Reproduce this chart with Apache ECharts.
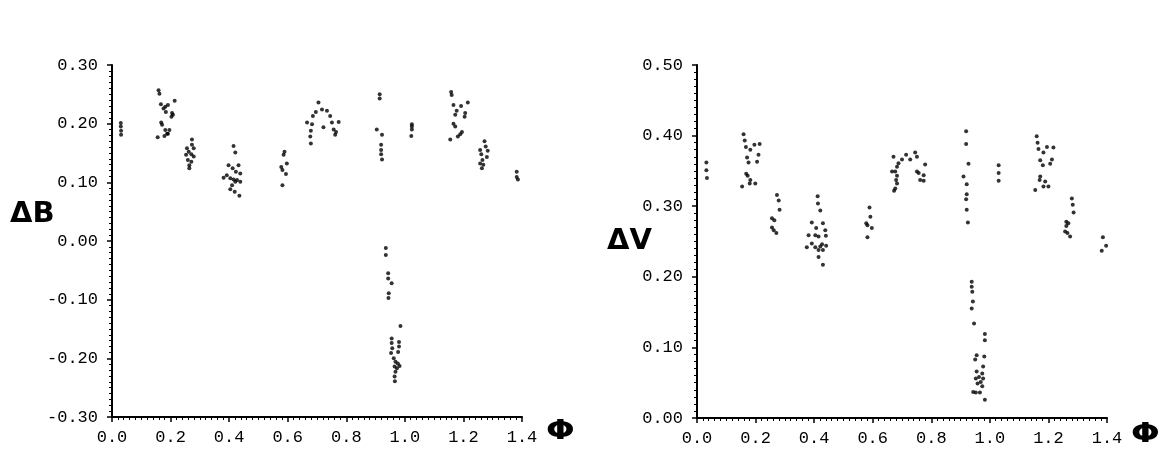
<!DOCTYPE html>
<html>
<head>
<meta charset="utf-8">
<script src="https://cdn.jsdelivr.net/npm/echarts@6/dist/echarts.min.js"></script>
<style>html,body{margin:0;padding:0;background:#fff}#c{width:1165px;height:450px}</style>
</head>
<body>
<div id="c"></div>
<script>
// ΔB panel (phase, ΔB)
const bPhase = [0.030,0.030,0.031,0.031,
0.159,0.162,0.167,0.182,0.176,0.184,0.191,0.214,0.205,0.208,0.203,0.168,0.171,0.182,0.196,0.191,0.156,0.179,0.188,
0.273,0.273,0.256,0.279,0.262,0.271,0.253,0.279,0.259,0.271,0.264,0.264,
0.415,0.421,0.398,0.432,0.412,0.423,0.438,0.392,0.381,0.404,0.415,0.427,0.421,0.438,0.410,0.404,0.419,0.435,
0.589,0.586,0.578,0.597,0.582,0.594,0.582,
0.705,0.717,0.696,0.734,0.686,0.745,0.666,0.683,0.751,0.774,0.722,0.679,0.757,0.765,0.677,0.762,0.679,
0.914,0.914,0.904,0.922,0.919,0.919,0.919,0.922,
0.935,0.935,0.943,0.943,0.955,0.945,0.944,0.985,0.955,0.955,0.957,0.953,0.980,0.980,0.977,0.962,0.968,0.976,0.965,0.973,0.982,0.968,0.965,0.966,
1.024,1.024,1.024,1.022,
1.158,1.160,1.215,1.166,1.192,1.177,1.206,1.172,1.204,1.166,1.172,1.195,1.189,1.181,1.155,
1.272,1.276,1.257,1.283,1.261,1.280,1.265,1.257,1.268,1.263,
1.382,1.382,1.386];
const bDelta = [0.201,0.195,0.188,0.181,
0.257,0.251,0.233,0.229,0.226,0.220,0.232,0.239,0.218,0.215,0.212,0.202,0.198,0.189,0.189,0.183,0.177,0.179,0.183,
0.173,0.164,0.158,0.158,0.152,0.148,0.147,0.144,0.138,0.135,0.129,0.124,
0.162,0.151,0.129,0.129,0.124,0.118,0.115,0.112,0.108,0.107,0.105,0.104,0.101,0.101,0.095,0.088,0.084,0.077,
0.152,0.147,0.126,0.132,0.121,0.114,0.095,
0.236,0.224,0.220,0.222,0.213,0.213,0.202,0.199,0.202,0.203,0.194,0.188,0.190,0.186,0.178,0.181,0.166,
0.250,0.243,0.190,0.181,0.164,0.155,0.148,0.139,
-0.012,-0.024,-0.055,-0.064,-0.072,-0.089,-0.097,-0.145,-0.166,-0.174,-0.183,-0.191,-0.172,-0.180,-0.189,-0.200,-0.206,-0.209,-0.214,-0.217,-0.213,-0.223,-0.231,-0.239,
0.199,0.195,0.190,0.179,
0.254,0.249,0.236,0.232,0.230,0.222,0.218,0.215,0.212,0.200,0.195,0.186,0.182,0.178,0.173,
0.170,0.161,0.155,0.154,0.148,0.143,0.138,0.132,0.130,0.124,
0.118,0.109,0.105];

// ΔV panel (phase, ΔV)
const vPhase = [0.032,0.032,0.034,
0.159,0.163,0.167,0.182,0.196,0.214,0.171,0.210,0.176,0.205,0.168,0.173,0.182,0.199,0.180,0.154,
0.273,0.279,0.282,0.256,0.264,0.256,0.262,0.271,
0.412,0.413,0.421,0.392,0.430,0.407,0.438,0.381,0.404,0.415,0.440,0.392,0.427,0.375,0.404,0.421,0.441,0.430,0.415,0.415,0.430,
0.589,0.592,0.578,0.582,0.597,0.582,
0.671,0.688,0.700,0.714,0.728,0.745,0.751,0.779,0.683,0.666,0.677,0.751,0.757,0.774,0.683,0.762,0.774,0.680,0.683,0.677,0.673,
0.919,0.919,0.927,0.910,0.921,0.921,0.919,0.921,0.925,
0.938,0.938,0.940,0.942,0.938,0.946,0.983,0.983,0.955,0.950,0.981,0.977,0.955,0.974,0.963,0.977,0.952,0.969,0.958,0.974,0.943,0.952,0.966,0.983,
1.030,1.030,1.030,
1.160,1.163,1.166,1.183,1.217,1.195,1.172,1.212,1.181,1.206,1.172,1.170,1.189,1.183,1.200,1.155,
1.280,1.283,1.286,1.261,1.268,1.261,1.257,1.265,1.274,
1.386,1.397,1.382];
const vDelta = [0.362,0.351,0.340,
0.402,0.393,0.384,0.380,0.387,0.388,0.369,0.373,0.362,0.363,0.346,0.343,0.337,0.332,0.332,0.328,
0.316,0.308,0.295,0.283,0.280,0.270,0.266,0.262,
0.314,0.304,0.294,0.277,0.276,0.269,0.266,0.259,0.259,0.257,0.258,0.247,0.246,0.242,0.242,0.243,0.244,0.238,0.238,0.228,0.217,
0.298,0.285,0.276,0.273,0.269,0.256,
0.370,0.361,0.366,0.373,0.366,0.376,0.370,0.359,0.356,0.349,0.349,0.349,0.347,0.344,0.343,0.337,0.336,0.337,0.332,0.325,0.322,
0.406,0.388,0.360,0.342,0.331,0.317,0.310,0.295,0.277,
0.193,0.186,0.179,0.165,0.155,0.134,0.119,0.110,0.089,0.083,0.087,0.073,0.066,0.063,0.058,0.056,0.056,0.051,0.049,0.045,0.037,0.036,0.036,0.026,
0.358,0.347,0.336,
0.399,0.390,0.381,0.376,0.383,0.384,0.365,0.366,0.358,0.360,0.342,0.337,0.335,0.328,0.328,0.323,
0.311,0.302,0.291,0.278,0.276,0.272,0.264,0.262,0.257,
0.256,0.244,0.237];

const xRange = [0.0, 1.4];
const bRange = [-0.30, 0.30];
const vRange = [0.00, 0.50];
const axisNames = ['ΔB', 'ΔV', 'Φ'];

const chart = echarts.init(document.getElementById('c'), null, {renderer: 'canvas'});
const FONT = '"Liberation Mono", "DejaVu Sans Mono", monospace';

function xAxis(idx) {
  return {
    type: 'value', gridIndex: idx, min: xRange[0], max: xRange[1], interval: 0.2,
    axisLine: {show: true, onZero: false, lineStyle: {color: '#000', width: 2}},
    axisTick: {show: true, length: 5, lineStyle: {color: '#000', width: 1.5}},
    minorTick: {show: true, splitNumber: 10, length: 3, lineStyle: {color: '#000', width: 1}},
    splitLine: {show: false},
    axisLabel: {color: '#000', fontFamily: FONT, fontSize: 17, margin: 12,
      formatter: v => v.toFixed(1)}
  };
}
function yAxis(idx, range, interval) {
  return {
    type: 'value', gridIndex: idx, min: range[0], max: range[1], interval: interval,
    axisLine: {show: true, onZero: false, lineStyle: {color: '#000', width: 2}},
    axisTick: {show: true, length: 5, lineStyle: {color: '#000', width: 1.5}},
    minorTick: {show: true, splitNumber: 10, length: 3, lineStyle: {color: '#000', width: 1}},
    splitLine: {show: false},
    axisLabel: {color: '#000', fontFamily: FONT, fontSize: 17, margin: 14,
      formatter: v => v.toFixed(2)}
  };
}

const zip = (xs, ys) => xs.map((x, i) => [x, ys[i]]);

chart.setOption({
  animation: false,
  backgroundColor: '#fff',
  grid: [
    {left: 112, top: 65, width: 410, height: 352},
    {left: 697, top: 65, width: 410, height: 353}
  ],
  xAxis: [xAxis(0), xAxis(1)],
  yAxis: [yAxis(0, bRange, 0.1), yAxis(1, vRange, 0.1)],
  series: [
    {type: 'scatter', xAxisIndex: 0, yAxisIndex: 0, data: zip(bPhase, bDelta),
     symbol: 'circle', symbolSize: 4, itemStyle: {color: '#000'}},
    {type: 'scatter', xAxisIndex: 1, yAxisIndex: 1, data: zip(vPhase, vDelta),
     symbol: 'circle', symbolSize: 4, itemStyle: {color: '#000'}}
  ],
  graphic: [
    {type: 'text', left: 10, top: 200, style: {text: axisNames[0], fill: '#000',
      font: 'bold 29px "DejaVu Sans", sans-serif'}},
    {type: 'text', left: 607, top: 227, style: {text: axisNames[1], fill: '#000',
      font: 'bold 29px "DejaVu Sans", sans-serif'}},
    {type: 'text', x: 546, y: 418, scaleX: 1.25, style: {text: axisNames[2], fill: '#000',
      font: 'bold 27px "DejaVu Sans", sans-serif'}},
    {type: 'text', x: 1131, y: 421, scaleX: 1.25, style: {text: axisNames[2], fill: '#000',
      font: 'bold 27px "DejaVu Sans", sans-serif'}}
  ]
});
</script>
</body>
</html>
